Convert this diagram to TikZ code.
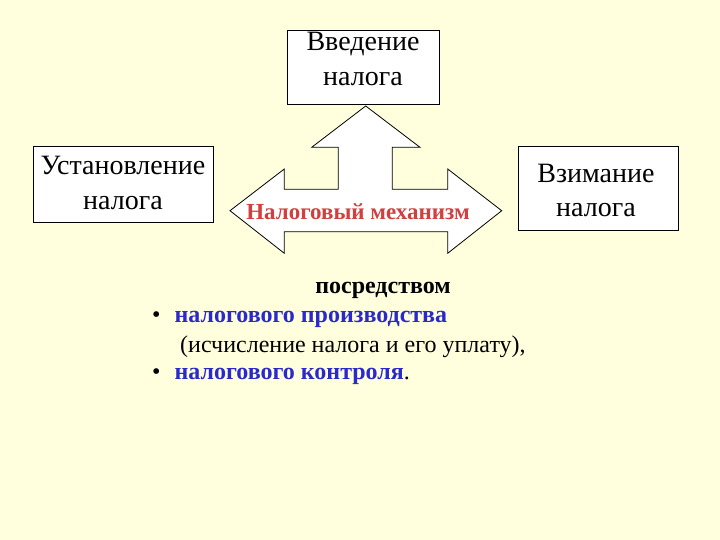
\documentclass[tikz,border=0pt]{standalone}
\usepackage{fontspec}
\setmainfont{Liberation Serif}
\definecolor{bg}{HTML}{FFFFDD}
\definecolor{redt}{HTML}{D04040}
\definecolor{bluet}{HTML}{2A2ACC}
\begin{document}
\begin{tikzpicture}[x=1pt,y=-1pt,
  box/.style={draw=black,fill=white,line width=0.8pt,align=center,inner sep=0pt},
  lbl/.style={align=center,inner sep=0pt,font=\fontsize{28}{35}\selectfont}]
\fill[bg] (0,0) rectangle (720,540);
\useasboundingbox (0,0) rectangle (720,540);
\node[box,minimum width=152,minimum height=74] (vved) at (363,67) {};
\node[lbl] (vvedt) at (363,59) {Введение\\ налога};
\node[box,minimum width=180,minimum height=76] (ust) at (123,184) {};
\node[lbl] (ustt) at (123,183) {Установление\\ налога};
\node[box,minimum width=160,minimum height=84] (vzim) at (598,188) {};
\node[align=center,inner sep=0pt,font=\fontsize{28}{34}\selectfont] (vzimt) at (596,190) {Взимание\\ налога};
\draw[fill=white,line width=0.8pt] (230,210.7) -- (284.3,169) -- (284.3,189.3) -- (338.3,189.3) -- (338.3,147.3) -- (311.7,147.3) -- (365.7,106) -- (420,147.3) -- (392.3,147.3) -- (392.3,189.3) -- (447.7,189.3) -- (447.7,169) -- (501.7,210.7) -- (447.7,253.3) -- (447.7,231.7) -- (284.3,231.7) -- (284.3,253.3) -- cycle;
\node[inner sep=0pt,text=redt,font=\bfseries\fontsize{23}{25}\selectfont] (mech) at (358,212) {Налоговый механизм};
\node[inner sep=0pt,font=\bfseries\fontsize{24}{26}\selectfont] (posr) at (383,290) {посредством};
\node[inner sep=0pt,anchor=west,font=\fontsize{24}{26}\selectfont] (b1) at (152,319) {•\hspace{14pt}\textcolor{bluet}{\bfseries налогового производства}};
\node[inner sep=0pt,anchor=west,font=\fontsize{24}{26}\selectfont] (b1b) at (180,347) {(исчисление налога и его уплату),};
\node[inner sep=0pt,anchor=west,font=\fontsize{24}{26}\selectfont] (b2) at (152,376) {•\hspace{14pt}\textcolor{bluet}{\bfseries налогового контроля}.};
\end{tikzpicture}
\end{document}
